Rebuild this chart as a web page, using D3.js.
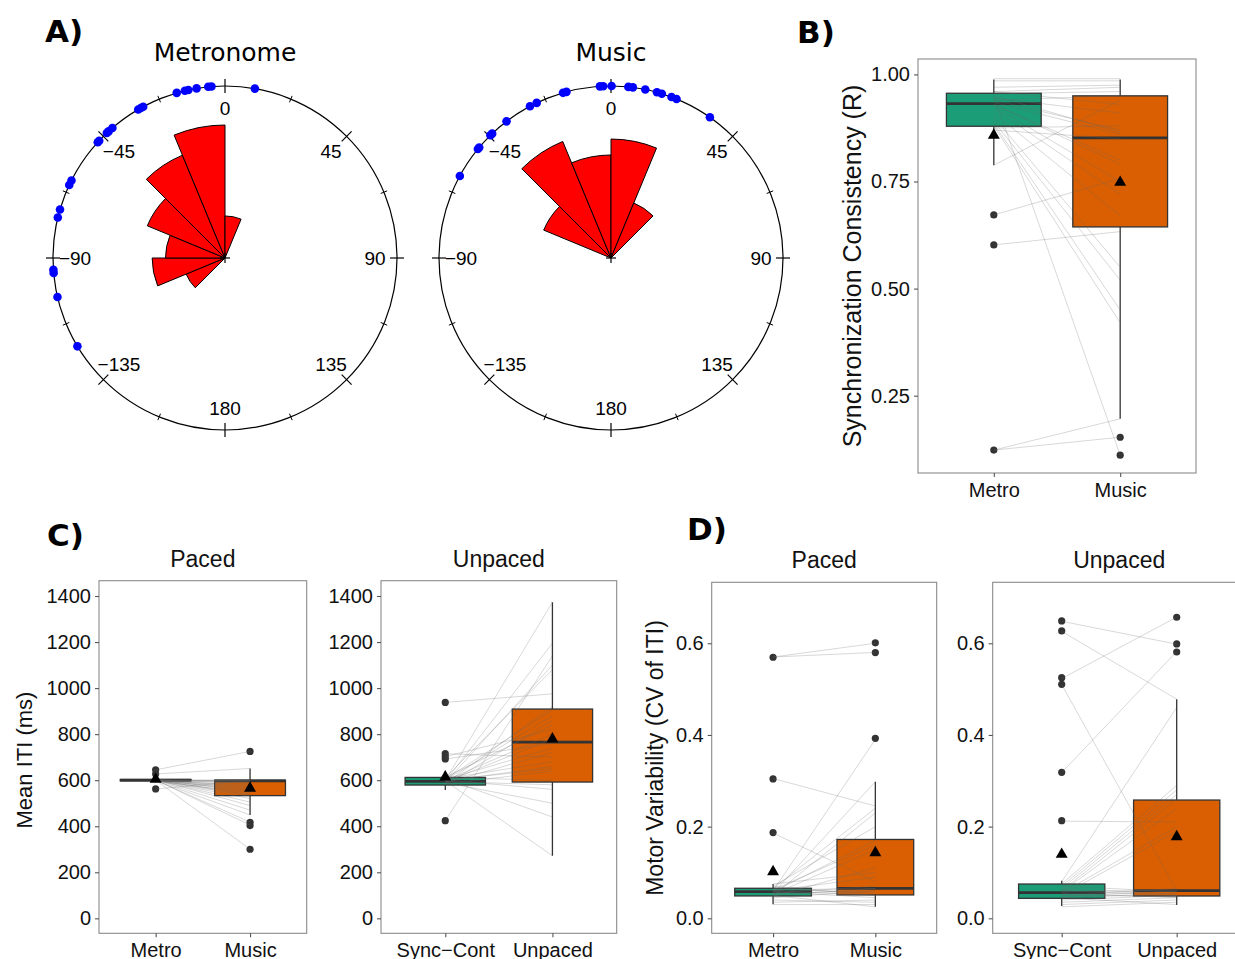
<!DOCTYPE html>
<html><head><meta charset="utf-8">
<script src="https://cdn.jsdelivr.net/npm/d3@7"></script>
<style>
body{margin:0;background:#fff}
svg{display:block}
text{font-family:"Liberation Sans",Arial,Helvetica,sans-serif}
</style>
</head><body>
<svg id="chart" width="1235" height="959"></svg>
<script>
// ---------------- DATA ----------------
// Panel A: circular phase distributions (degrees)
const roseBinStarts = [-135, -112.5, -90, -67.5, -45, -22.5, 0, 22.5];
const roseBinWidth = 22.5;
const metronomeRoseCounts = [1, 3, 2, 4, 7, 10, 1, 0];
const musicRoseCounts = [0, 0, 0, 3, 9, 6, 8, 2];
const metronomePhases = [10, -4.5, -5.6, -9.5, -12.3, -13.5, -16.3, -28.4, -29.3, -30.3, -40.9, -42.6, -43.4, -47, -47.7, -63.2, -64.9, -73.6, -76.4, -93.9, -95, -103.1, -120.9];
const musicPhases = [0.2, -2.6, -3.7, 5.8, 7.3, 11.5, 15.5, 17.2, 20.6, 22.4, 35.1, -15, -16.2, -25.6, -28.1, -37.4, -43.7, -44.5, -50, -50.7, -61.5];
const polarMajorTicks = [0, 45, 90, 135, 180, -135, -90, -45];
const polarMinorTicks = [22.5, 67.5, 112.5, 157.5, -157.5, -112.5, -67.5, -22.5];

// Panel B: synchronization consistency (R)
const syncCategories = ["Metro", "Music"];
const syncTicks = [0.25, 0.50, 0.75, 1.00];
// box = [whiskerLow, Q1, median, Q3, whiskerHigh]
const syncMetroBox = [0.788, 0.879, 0.932, 0.956, 0.988];
const syncMusicBox = [0.196, 0.644, 0.852, 0.950, 0.988];
const syncMeans = [0.858, 0.748];
const syncMetroOutliers = [0.672, 0.602, 0.123];
const syncMusicOutliers = [0.153, 0.111];
const syncMetroValues = [0.123, 0.123, 0.672, 0.602, 0.788, 0.95, 0.99, 0.985, 0.97, 0.96, 0.955, 0.945, 0.94, 0.935, 0.93, 0.93, 0.925, 0.92, 0.91, 0.90, 0.89, 0.885, 0.88, 0.875, 0.95, 0.94, 0.96, 0.87];
const syncMusicValues = [0.196, 0.153, 0.757, 0.633, 0.940, 0.111, 0.99, 0.985, 0.975, 0.97, 0.96, 0.91, 0.87, 0.86, 0.80, 0.79, 0.75, 0.72, 0.67, 0.55, 0.52, 0.45, 0.42, 0.88, 0.865, 0.95, 0.93, 0.85];

// Panel C: mean ITI (ms)
const itiTicks = [0, 200, 400, 600, 800, 1000, 1200, 1400];
const pacedCategories = ["Metro", "Music"];
const unpacedCategories = ["Sync\u2212Cont", "Unpaced"];
const itiPacedMetroBox = [596, 597, 600, 603, 604];
const itiPacedMusicBox = [449, 533, 597, 600, 651];
const itiPacedMeans = [604, 565];
const itiPacedMetroOutliers = [645, 627, 562];
const itiPacedMusicOutliers = [725, 417, 403, 300];
const itiPacedMetroValues = [645, 627, 562, 600, 601, 599, 600, 602, 598, 600, 601, 600, 599, 600, 603, 597, 600, 601, 600, 599, 600, 602, 600, 598, 600, 601, 600, 599];
const itiPacedMusicValues = [725, 651, 598, 600, 597, 595, 590, 585, 580, 575, 570, 565, 560, 555, 550, 545, 540, 535, 530, 520, 505, 490, 470, 449, 418, 405, 300, 600];
const itiSyncBox = [557, 579, 595, 612, 640];
const itiUnpacedBox = [272, 592, 765, 909, 1373];
const itiUnpacedMeans = [614, 779];
const itiSyncOutliers = [938, 715, 702, 692, 424];
const itiUnpacedOutliers = [];
const itiSyncValues = [938, 715, 702, 692, 424, 600, 595, 590, 610, 585, 605, 600, 580, 612, 598, 592, 603, 588, 607, 596, 600, 583, 611, 594, 601, 589, 606, 597];
const itiUnpacedValues = [975, 700, 820, 760, 1140, 1373, 1195, 1100, 1080, 920, 905, 880, 860, 840, 800, 780, 740, 720, 680, 660, 650, 640, 600, 580, 560, 500, 440, 272];

// Panel D: motor variability (CV of ITI)
const cvTicks = [0.0, 0.2, 0.4, 0.6];
const cvPacedMetroBox = [0.0305, 0.0488, 0.058, 0.0655, 0.075];
const cvPacedMusicBox = [0.0253, 0.051, 0.0655, 0.172, 0.298];
const cvPacedMeans = [0.1017, 0.143];
const cvPacedMetroOutliers = [0.5695, 0.304, 0.187];
const cvPacedMusicOutliers = [0.601, 0.5796, 0.3927];
const cvPacedMetroValues = [0.57, 0.57, 0.305, 0.186, 0.06, 0.055, 0.065, 0.05, 0.07, 0.058, 0.062, 0.052, 0.048, 0.075, 0.06, 0.055, 0.05, 0.045, 0.065, 0.06, 0.058, 0.035, 0.04, 0.03, 0.05, 0.055, 0.062, 0.07];
const cvPacedMusicValues = [0.60, 0.58, 0.245, 0.08, 0.39, 0.298, 0.24, 0.23, 0.2, 0.17, 0.16, 0.15, 0.11, 0.10, 0.09, 0.07, 0.065, 0.06, 0.055, 0.05, 0.045, 0.04, 0.035, 0.03, 0.025, 0.06, 0.065, 0.05];
const cvSyncBox = [0.027, 0.0436, 0.056, 0.0748, 0.082];
const cvUnpacedBox = [0.029, 0.0487, 0.0603, 0.258, 0.478];
const cvUnpacedMeans = [0.1396, 0.178];
const cvSyncOutliers = [0.6487, 0.627, 0.525, 0.5105, 0.3185, 0.213];
const cvUnpacedOutliers = [0.6568, 0.5985, 0.581];
const cvSyncValues = [0.648, 0.626, 0.523, 0.51, 0.318, 0.212, 0.08, 0.075, 0.07, 0.065, 0.06, 0.058, 0.055, 0.05, 0.048, 0.045, 0.06, 0.055, 0.05, 0.07, 0.065, 0.04, 0.035, 0.03, 0.025, 0.045, 0.06, 0.05];
const cvUnpacedValues = [0.598, 0.478, 0.657, 0.06, 0.582, 0.21, 0.46, 0.29, 0.28, 0.27, 0.26, 0.24, 0.2, 0.19, 0.06, 0.055, 0.05, 0.045, 0.065, 0.058, 0.052, 0.05, 0.045, 0.04, 0.035, 0.03, 0.06, 0.048];

const boxColors = ["#1B9E77", "#D95F02"];

// ---------------- DRAWING ----------------
const svg = d3.select("#chart");
svg.append("rect").attr("width", 1235).attr("height", 959).attr("fill", "#fff");

function panelLetter(txt, x, y) {
  svg.append("text").attr("x", x).attr("y", y).text(txt)
    .style("font-family", "'DejaVu Sans', sans-serif").style("font-weight", "bold")
    .style("font-size", "31px").attr("fill", "#000");
}
panelLetter("A)", 45, 42);
panelLetter("B)", 797, 43);
panelLetter("C)", 47, 546);
panelLetter("D)", 687, 540);

function drawRose(cx, cy, title, counts, phases) {
  const R = 172;
  const ang = d3.scaleLinear().domain([-180, 180]).range([-Math.PI, Math.PI]);
  const rad = d3.scaleSqrt().domain([0, 10]).range([0, 133]);
  svg.append("text").attr("x", cx).attr("y", 61).attr("text-anchor", "middle")
    .style("font-family", "'DejaVu Sans', sans-serif").style("font-size", "25px").text(title);
  const g = svg.append("g").attr("transform", `translate(${cx},${cy})`);
  g.append("circle").attr("r", R).attr("fill", "none").attr("stroke", "#000").attr("stroke-width", 1.2);
  const tickLine = (deg, inner, outer) => {
    const a = ang(deg);
    return { x1: inner * Math.sin(a), y1: -inner * Math.cos(a), x2: outer * Math.sin(a), y2: -outer * Math.cos(a) };
  };
  g.selectAll("line.maj").data(polarMajorTicks).join("line")
    .each(function (d) { const t = tickLine(d, R - 7, R + 7); d3.select(this).attr("x1", t.x1).attr("y1", t.y1).attr("x2", t.x2).attr("y2", t.y2); })
    .attr("stroke", "#000").attr("stroke-width", 1.2);
  g.selectAll("line.min").data(polarMinorTicks).join("line")
    .each(function (d) { const t = tickLine(d, R - 3.5, R + 3.5); d3.select(this).attr("x1", t.x1).attr("y1", t.y1).attr("x2", t.x2).attr("y2", t.y2); })
    .attr("stroke", "#000").attr("stroke-width", 1);
  const fmt = d3.format("d");
  g.selectAll("text.lab").data(polarMajorTicks).join("text")
    .attr("x", d => 150 * Math.sin(ang(d)))
    .attr("y", d => -150 * Math.cos(ang(d)))
    .attr("text-anchor", "middle").attr("dominant-baseline", "central")
    .style("font-size", "19px").text(d => fmt(d));
  const arc = d3.arc();
  const wedges = roseBinStarts.map((s, i) => ({ s, c: counts[i] })).filter(d => d.c > 0);
  g.selectAll("path.wedge").data(wedges).join("path")
    .attr("d", d => arc({ innerRadius: 0, outerRadius: rad(d.c), startAngle: ang(d.s), endAngle: ang(d.s + roseBinWidth) }))
    .attr("fill", "#ff0000").attr("stroke", "#000").attr("stroke-width", 1);
  g.append("line").attr("x1", -5).attr("x2", 5).attr("stroke", "#000").attr("stroke-width", 1.2);
  g.append("line").attr("y1", -5).attr("y2", 5).attr("stroke", "#000").attr("stroke-width", 1.2);
  g.selectAll("circle.dot").data(phases).join("circle")
    .attr("cx", d => R * Math.sin(ang(d))).attr("cy", d => -R * Math.cos(ang(d)))
    .attr("r", 4.3).attr("fill", "#0000ff");
}
drawRose(225, 258, "Metronome", metronomeRoseCounts, metronomePhases);
drawRose(611, 258, "Music", musicRoseCounts, musicPhases);

function drawBoxPanel(p) {
  const x = d3.scalePoint().domain(p.categories).range([p.x0, p.x1]).padding(0.6);
  const y = d3.scaleLinear().domain(p.yDomain).range([p.y1, p.y0]);
  const bw = x.step() * 0.75;
  const g = svg.append("g");
  const clipId = "clip" + Math.round(p.x0);
  g.append("clipPath").attr("id", clipId).append("rect")
    .attr("x", p.x0).attr("y", p.y0).attr("width", p.x1 - p.x0).attr("height", p.y1 - p.y0);
  const inner = g.append("g").attr("clip-path", `url(#${clipId})`);
  p.boxes.forEach((b, i) => {
    const cx = x(p.categories[i]);
    inner.append("line").attr("x1", cx).attr("x2", cx).attr("y1", y(b[4])).attr("y2", y(b[3])).attr("stroke", "#333").attr("stroke-width", 1.3);
    inner.append("line").attr("x1", cx).attr("x2", cx).attr("y1", y(b[1])).attr("y2", y(b[0])).attr("stroke", "#333").attr("stroke-width", 1.3);
    inner.append("rect").attr("x", cx - bw / 2).attr("width", bw).attr("y", y(b[3])).attr("height", Math.max(0.5, y(b[1]) - y(b[3])))
      .attr("fill", boxColors[i]).attr("stroke", "#333").attr("stroke-width", 1.3);
    inner.append("line").attr("x1", cx - bw / 2).attr("x2", cx + bw / 2).attr("y1", y(b[2])).attr("y2", y(b[2])).attr("stroke", "#333").attr("stroke-width", 2.8);
    inner.selectAll(null).data(p.outliers[i]).join("circle")
      .attr("cx", cx).attr("cy", d => y(d)).attr("r", 3.6).attr("fill", "#333");
  });
  const a = p.pairs[0], bb = p.pairs[1];
  inner.selectAll("line.pair").data(d3.range(a.length)).join("line")
    .attr("x1", x(p.categories[0])).attr("x2", x(p.categories[1]))
    .attr("y1", j => y(a[j])).attr("y2", j => y(bb[j]))
    .attr("stroke", "rgba(105,105,105,0.26)").attr("stroke-width", 1);
  inner.selectAll("path.mean").data(p.means).join("path")
    .attr("transform", (d, i) => `translate(${x(p.categories[i])},${y(d)})`)
    .attr("d", d3.symbol(d3.symbolTriangle, 62)).attr("fill", "#000");
  g.append("rect").attr("x", p.x0).attr("y", p.y0).attr("width", p.x1 - p.x0).attr("height", p.y1 - p.y0)
    .attr("fill", "none").attr("stroke", "#8a8a8a").attr("stroke-width", 1.1);
  const ya = g.append("g").attr("transform", `translate(${p.x0},0)`)
    .call(d3.axisLeft(y).tickValues(p.yTicks).tickFormat(p.fmt).tickSize(4).tickPadding(4));
  const xa = g.append("g").attr("transform", `translate(0,${p.y1})`)
    .call(d3.axisBottom(x).tickSize(4).tickPadding(6));
  [ya, xa].forEach(ax => {
    ax.select(".domain").remove();
    ax.selectAll(".tick line").attr("stroke", "#555").attr("stroke-width", 1.1);
    ax.selectAll(".tick text").attr("fill", "#111").style("font-size", "20px")
      .style("font-family", "'Liberation Sans', Arial, sans-serif");
  });
  if (p.title) {
    g.append("text").attr("x", (p.x0 + p.x1) / 2).attr("y", p.titleY).attr("text-anchor", "middle")
      .style("font-size", "23px").attr("fill", "#111").text(p.title);
  }
  if (p.yTitle) {
    g.append("text").attr("transform", `translate(${p.yTitleX},${p.yTitleY}) rotate(-90)`)
      .attr("text-anchor", "middle").style("font-size", p.yTitleSize + "px").attr("fill", "#111").text(p.yTitle);
  }
}

// Panel B
drawBoxPanel({
  x0: 918, x1: 1196, y0: 59, y1: 473, yDomain: [0.0695, 1.036], yTicks: syncTicks, fmt: d3.format(".2f"),
  categories: syncCategories, boxes: [syncMetroBox, syncMusicBox], means: syncMeans,
  outliers: [syncMetroOutliers, syncMusicOutliers], pairs: [syncMetroValues, syncMusicValues],
  yTitle: "Synchronization Consistency (R)", yTitleX: 861, yTitleY: 266, yTitleSize: 25
});
// Panel C
drawBoxPanel({
  x0: 99, x1: 306.7, y0: 580.7, y1: 933.3, yDomain: [-65, 1466.5], yTicks: itiTicks, fmt: d3.format("d"),
  categories: pacedCategories, boxes: [itiPacedMetroBox, itiPacedMusicBox], means: itiPacedMeans,
  outliers: [itiPacedMetroOutliers, itiPacedMusicOutliers], pairs: [itiPacedMetroValues, itiPacedMusicValues],
  title: "Paced", titleY: 567, yTitle: "Mean ITI (ms)", yTitleX: 32, yTitleY: 760, yTitleSize: 22
});
drawBoxPanel({
  x0: 381, x1: 616.7, y0: 580.7, y1: 933.3, yDomain: [-65, 1466.5], yTicks: itiTicks, fmt: d3.format("d"),
  categories: unpacedCategories, boxes: [itiSyncBox, itiUnpacedBox], means: itiUnpacedMeans,
  outliers: [itiSyncOutliers, itiUnpacedOutliers], pairs: [itiSyncValues, itiUnpacedValues],
  title: "Unpaced", titleY: 567
});
// Panel D
drawBoxPanel({
  x0: 711.7, x1: 936.7, y0: 582.3, y1: 933.3, yDomain: [-0.0327, 0.733], yTicks: cvTicks, fmt: d3.format(".1f"),
  categories: pacedCategories, boxes: [cvPacedMetroBox, cvPacedMusicBox], means: cvPacedMeans,
  outliers: [cvPacedMetroOutliers, cvPacedMusicOutliers], pairs: [cvPacedMetroValues, cvPacedMusicValues],
  title: "Paced", titleY: 568, yTitle: "Motor Variability (CV of ITI)", yTitleX: 663, yTitleY: 758, yTitleSize: 23
});
drawBoxPanel({
  x0: 992.7, x1: 1245.7, y0: 582.3, y1: 933.3, yDomain: [-0.0327, 0.733], yTicks: cvTicks, fmt: d3.format(".1f"),
  categories: unpacedCategories, boxes: [cvSyncBox, cvUnpacedBox], means: cvUnpacedMeans,
  outliers: [cvSyncOutliers, cvUnpacedOutliers], pairs: [cvSyncValues, cvUnpacedValues],
  title: "Unpaced", titleY: 568
});
</script>
</body></html>
